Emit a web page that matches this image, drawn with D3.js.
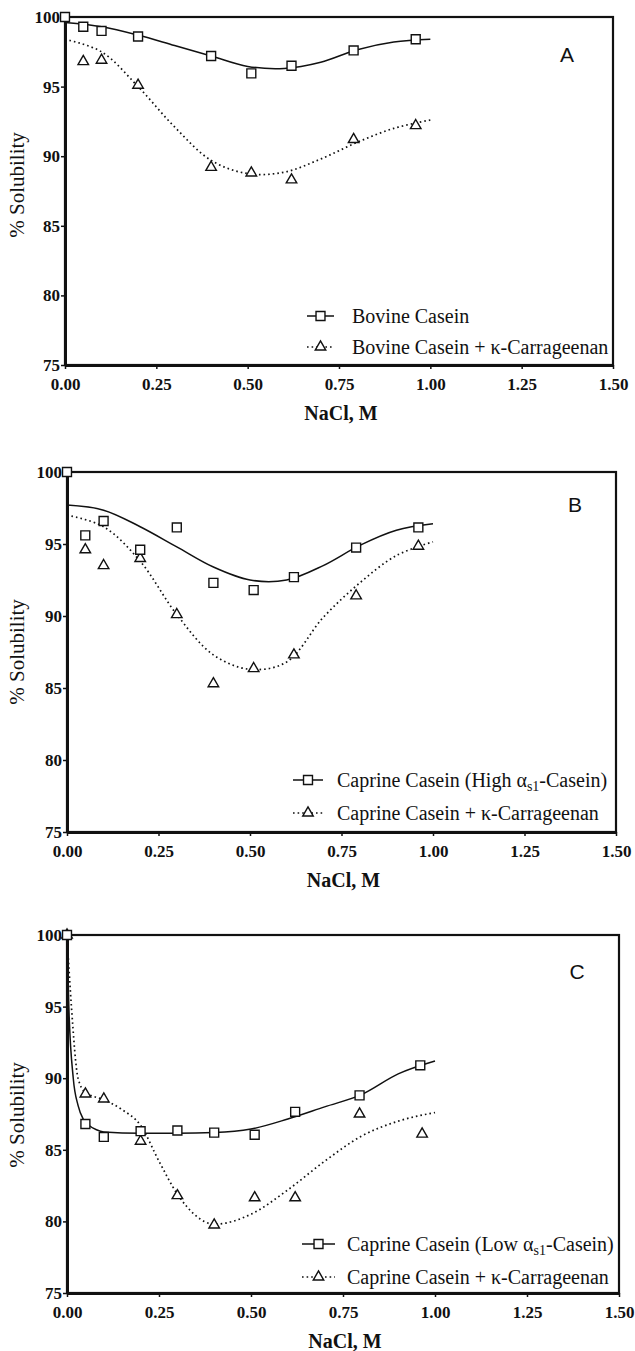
<!DOCTYPE html>
<html>
<head>
<meta charset="utf-8">
<script src="https://cdn.jsdelivr.net/npm/d3@7"></script>
<style>
  body { margin: 0; background: #fff; }
  svg { display: block; }
  .axis .tick text { font-family: 'Liberation Serif', serif; font-weight: bold; font-size: 17px; fill: #111; }
  .axis .tick line { stroke: #111; stroke-width: 1.5; }
  .axis path.domain { stroke: #111; stroke-width: 3; }
  .frame { fill: none; stroke: #111; stroke-width: 2.2; }
  .x-title { font-family: 'Liberation Serif', serif; font-weight: bold; font-size: 20px; fill: #111; }
  .y-title { font-family: 'Liberation Serif', serif; font-size: 21px; fill: #111; }
  .legend text { font-family: 'Liberation Serif', serif; font-size: 20px; fill: #111; }
  .panel-letter { font-family: 'Liberation Sans', sans-serif; font-size: 21px; fill: #111; }
  .fit { fill: none; stroke: #111; stroke-width: 1.5; }
  .fit.dotted { stroke-width: 1.7; stroke-dasharray: 1.6 3; }
  .marker { fill: #fff; stroke: #111; stroke-width: 1.4; }
</style>
</head>
<body>
<div id="chart"></div>
<script>
// axis ticks shared by all three panels
const xTicks = [0, 0.25, 0.5, 0.75, 1.0, 1.25, 1.5];
const yTicks = [75, 80, 85, 90, 95, 100];

// x positions used for the smooth fitted curves of A and B
const fitX = [0, 0.1, 0.2, 0.3, 0.4, 0.5, 0.6, 0.7, 0.8, 0.9, 1.0];

// Panel A - bovine casein
const bovineX = [0, 0.05, 0.1, 0.2, 0.4, 0.51, 0.62, 0.79, 0.96];
const bovine = [100, 99.3, 99.0, 98.6, 97.2, 95.95, 96.5, 97.6, 98.4];
const bovineKX = [0.05, 0.1, 0.2, 0.4, 0.51, 0.62, 0.79, 0.96];
const bovineK = [96.8, 96.9, 95.1, 89.2, 88.8, 88.3, 91.2, 92.2];
const bovineFit = [99.6, 99.3, 98.7, 97.95, 97.2, 96.45, 96.3, 96.75, 97.65, 98.2, 98.4];
const bovineKFit = [98.4, 97.5, 95.0, 92.1, 89.7, 88.75, 88.85, 89.8, 91.0, 92.0, 92.6];

// Panel B - caprine casein, high alpha-s1
const highX = [0, 0.05, 0.1, 0.2, 0.3, 0.4, 0.51, 0.62, 0.79, 0.96];
const high = [100, 95.6, 96.6, 94.6, 96.15, 92.3, 91.8, 92.7, 94.75, 96.15];
const highKX = [0.05, 0.1, 0.2, 0.3, 0.4, 0.51, 0.62, 0.79, 0.96];
const highK = [94.6, 93.5, 94.0, 90.1, 85.3, 86.35, 87.3, 91.4, 94.85];
const highFit = [97.7, 97.35, 96.2, 94.8, 93.4, 92.5, 92.5, 93.5, 94.9, 95.95, 96.4];
const highKFit = [97.0, 96.2, 93.8, 90.1, 87.3, 86.3, 86.8, 89.9, 92.3, 94.2, 95.15];

// Panel C - caprine casein, low alpha-s1
const lowX = [0, 0.05, 0.1, 0.2, 0.3, 0.4, 0.51, 0.62, 0.795, 0.96];
const low = [100, 86.8, 85.9, 86.3, 86.35, 86.2, 86.05, 87.65, 88.8, 90.9];
const lowKX = [0, 0.05, 0.1, 0.2, 0.3, 0.4, 0.51, 0.62, 0.795, 0.965];
const lowK = [100, 88.9, 88.55, 85.6, 81.8, 79.75, 81.65, 81.65, 87.5, 86.1];
const lowFitX = [0, 0.005, 0.017, 0.03, 0.045, 0.06, 0.08, 0.1, 0.2, 0.3, 0.4, 0.5, 0.6, 0.7, 0.8, 0.9, 1.0];
const lowFit = [100, 95, 90, 88.1, 87.1, 86.7, 86.4, 86.25, 86.15, 86.15, 86.2, 86.45, 87.15, 88.0, 88.85, 90.3, 91.2];
const lowKFitX = [0, 0.012, 0.03, 0.05, 0.1, 0.15, 0.2, 0.25, 0.3, 0.35, 0.4, 0.5, 0.6, 0.7, 0.8, 0.9, 1.0];
const lowKFit = [100, 95, 90, 89.0, 88.5, 87.8, 86.7, 84.2, 81.9, 80.4, 79.8, 80.5, 82.2, 84.2, 85.95, 87.0, 87.6];

// legend texts, _{..} marks a subscript
const legendA = ['Bovine Casein', 'Bovine Casein + κ-Carrageenan'];
const legendB = ['Caprine Casein (High α_{s1}-Casein)', 'Caprine Casein + κ-Carrageenan'];
const legendC = ['Caprine Casein (Low α_{s1}-Casein)', 'Caprine Casein + κ-Carrageenan'];

const zip = (xs, ys) => xs.map((x, i) => ({ x: x, y: ys[i] }));

class SolubilityPanel {
  constructor(_svg, _config, _data) {
    this.svg = _svg;
    this.config = _config;
    this.data = _data;
    this.initVis();
  }

  initVis() {
    let vis = this;
    const c = vis.config;

    vis.chart = vis.svg.append('g')
      .attr('transform', `translate(${c.left}, ${c.top})`);

    vis.xScale = d3.scaleLinear().domain([0, 1.5]).range([0, c.width]);
    vis.yScale = d3.scaleLinear().domain([75, 100]).range([c.height, 0]);

    vis.xAxis = d3.axisBottom(vis.xScale)
      .tickValues(xTicks)
      .tickFormat(d3.format('.2f'))
      .tickSize(4).tickPadding(9).tickSizeOuter(0);
    vis.yAxis = d3.axisLeft(vis.yScale)
      .tickValues(yTicks)
      .tickFormat(d3.format('d'))
      .tickSize(4).tickPadding(1).tickSizeOuter(0);

    vis.chart.append('rect')
      .attr('class', 'frame')
      .attr('width', c.width)
      .attr('height', c.height);

    vis.chart.append('g')
      .attr('class', 'axis x-axis')
      .attr('transform', `translate(0,${c.height})`)
      .call(vis.xAxis)
      .attr('font-family', 'Liberation Serif')
      .attr('font-size', 17);
    vis.chart.append('g')
      .attr('class', 'axis y-axis')
      .call(vis.yAxis)
      .attr('font-family', 'Liberation Serif')
      .attr('font-size', 17);

    vis.chart.append('text')
      .attr('class', 'x-title')
      .attr('x', c.width / 2 + 2)
      .attr('y', c.height + 55)
      .attr('text-anchor', 'middle')
      .text('NaCl, M');

    vis.chart.append('text')
      .attr('class', 'y-title')
      .attr('transform', `translate(${c.titleX}, ${c.titleY}) rotate(-90)`)
      .attr('text-anchor', 'middle')
      .text('% Solubility');

    vis.chart.append('text')
      .attr('class', 'panel-letter')
      .attr('x', c.letterX)
      .attr('y', c.letterY)
      .attr('text-anchor', 'middle')
      .text(c.letter);

    vis.renderVis();
  }

  renderVis() {
    let vis = this;
    const d = vis.data;
    const c = vis.config;

    const line = d3.line()
      .x(p => vis.xScale(p.x))
      .y(p => vis.yScale(p.y))
      .curve(c.curve || d3.curveCatmullRom.alpha(0.5));

    vis.chart.append('path')
      .attr('class', 'fit')
      .attr('d', line(d.fit));
    vis.chart.append('path')
      .attr('class', 'fit dotted')
      .attr('d', line(d.fitK));

    const square = d3.symbol().type(d3.symbolSquare).size(80);
    const triangle = d3.symbol().type(d3.symbolTriangle).size(48);

    vis.chart.selectAll('.tri')
      .data(d.pointsK)
      .join('path')
      .attr('class', 'marker tri')
      .attr('d', triangle)
      .attr('transform', p => `translate(${vis.xScale(p.x)},${vis.yScale(p.y)})`);

    vis.chart.selectAll('.sq')
      .data(d.points)
      .join('path')
      .attr('class', 'marker sq')
      .attr('d', square)
      .attr('transform', p => `translate(${vis.xScale(p.x)},${vis.yScale(p.y)})`);

    // legend
    const lg = vis.chart.append('g').attr('class', 'legend');
    const rows = [
      { cls: 'fit', sym: square },
      { cls: 'fit dotted', sym: triangle }
    ];
    rows.forEach((r, i) => {
      const y = c.legendY[i];
      lg.append('line')
        .attr('class', r.cls)
        .attr('x1', c.legendX[0]).attr('x2', c.legendX[1])
        .attr('y1', y).attr('y2', y);
      lg.append('path')
        .attr('class', 'marker')
        .attr('d', r.sym)
        .attr('transform', `translate(${(c.legendX[0] + c.legendX[1]) / 2},${y})`);

      const t = lg.append('text')
        .attr('x', c.legendX[2])
        .attr('y', y + 7);
      const parts = d.legend[i].split(/_\{(.*?)\}/);
      parts.forEach((s, j) => {
        if (j % 2 === 1) {
          t.append('tspan').attr('dy', 4).attr('font-size', '14px').text(s);
        } else if (j > 0) {
          t.append('tspan').attr('dy', -4).text(s);
        } else {
          t.append('tspan').text(s);
        }
      });
    });
  }
}

const svg = d3.select('#chart').append('svg')
  .attr('width', 635)
  .attr('height', 1351);

new SolubilityPanel(svg,
  { left: 65, top: 17, width: 548, height: 348, titleX: -41, titleY: 168,
    letter: 'A', letterX: 502, letterY: 45,
    legendX: [242, 269, 287], legendY: [299, 330] },
  { points: zip(bovineX, bovine), pointsK: zip(bovineKX, bovineK),
    fit: zip(fitX, bovineFit), fitK: zip(fitX, bovineKFit), legend: legendA });

new SolubilityPanel(svg,
  { left: 67, top: 472, width: 549, height: 360, titleX: -43, titleY: 180,
    letter: 'B', letterX: 508, letterY: 40,
    legendX: [226, 256, 270], legendY: [308, 341] },
  { points: zip(highX, high), pointsK: zip(highKX, highK),
    fit: zip(fitX, highFit), fitK: zip(fitX, highKFit), legend: legendB });

new SolubilityPanel(svg,
  { left: 67, top: 935, width: 552, height: 358, titleX: -43, titleY: 180,
    letter: 'C', letterX: 510, letterY: 44, curve: d3.curveMonotoneX,
    legendX: [235, 268, 280], legendY: [309, 342] },
  { points: zip(lowX, low), pointsK: zip(lowKX, lowK),
    fit: zip(lowFitX, lowFit), fitK: zip(lowKFitX, lowKFit), legend: legendC });
</script>
</body>
</html>
